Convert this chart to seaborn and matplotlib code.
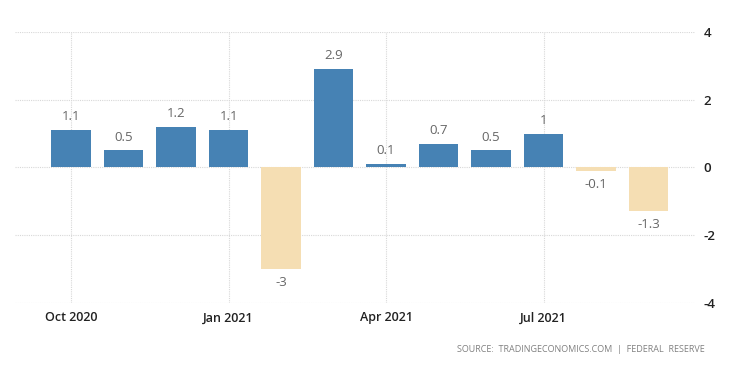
import matplotlib
matplotlib.use("Agg")
import matplotlib.pyplot as plt
import seaborn as sns
import pandas as pd

months = ["Oct 2020", "Nov 2020", "Dec 2020", "Jan 2021", "Feb 2021", "Mar 2021",
          "Apr 2021", "May 2021", "Jun 2021", "Jul 2021", "Aug 2021", "Sep 2021"]
values = [1.1, 0.5, 1.2, 1.1, -3, 2.9, 0.1, 0.7, 0.5, 1, -0.1, -1.3]
labels = ["1.1", "0.5", "1.2", "1.1", "-3", "2.9", "0.1", "0.7", "0.5", "1", "-0.1", "-1.3"]
tick_months = ["Oct 2020", "Jan 2021", "Apr 2021", "Jul 2021"]
y_ticks = [-4, -2, 0, 2, 4]

sns.set_theme(style="white")
plt.rcParams['font.family'] = ['Open Sans', 'DejaVu Sans']

df = pd.DataFrame({"month": months, "value": values})
df["sign"] = ["pos" if v >= 0 else "neg" for v in values]

fig = plt.figure(figsize=(7.5, 3.75), dpi=100)
ax = fig.add_axes([0.02, 0.192, 0.907, 0.723])

sns.barplot(data=df, x="month", y="value", hue="sign", order=months,
            palette={"pos": "#4682B4", "neg": "#F5DEB3"}, dodge=False,
            width=0.75, legend=False, ax=ax, saturation=1, linewidth=0)

for i, (v, lab) in enumerate(zip(values, labels)):
    if v >= 0:
        ax.text(i, v + 0.2, lab, ha="center", va="bottom", fontsize=9.5, color="#666666")
    else:
        ax.text(i, v - 0.2, lab, ha="center", va="top", fontsize=9.5, color="#666666")

ax.set_ylim(-4, 4)
ax.set_xlim(-1.07, 11.89)
ax.set_yticks(y_ticks)
ax.set_yticklabels([str(t) for t in y_ticks], fontsize=9.5, color="#222222", fontweight="semibold")
ax.yaxis.tick_right()
ax.tick_params(axis="y", length=0, pad=6)

tick_pos = [months.index(m) for m in tick_months]
ax.set_xticks(tick_pos)
ax.set_xticklabels(tick_months, fontsize=9, color="#222222", fontweight="semibold")
ax.tick_params(axis="x", length=0, pad=6)

ax.set_axisbelow(True)
ax.grid(True, axis="both", color="#d8d8d8", linestyle=(0, (1, 1)), linewidth=0.8)
for s in ax.spines.values():
    s.set_visible(False)
ax.set_xlabel("")
ax.set_ylabel("")

fig.text(0.94, 0.068, "SOURCE:  TRADINGECONOMICS.COM  |  FEDERAL  RESERVE", ha="right",
         va="center", fontsize=6.5, color="#808080")

fig.savefig("out.png", dpi=100, facecolor="white")
